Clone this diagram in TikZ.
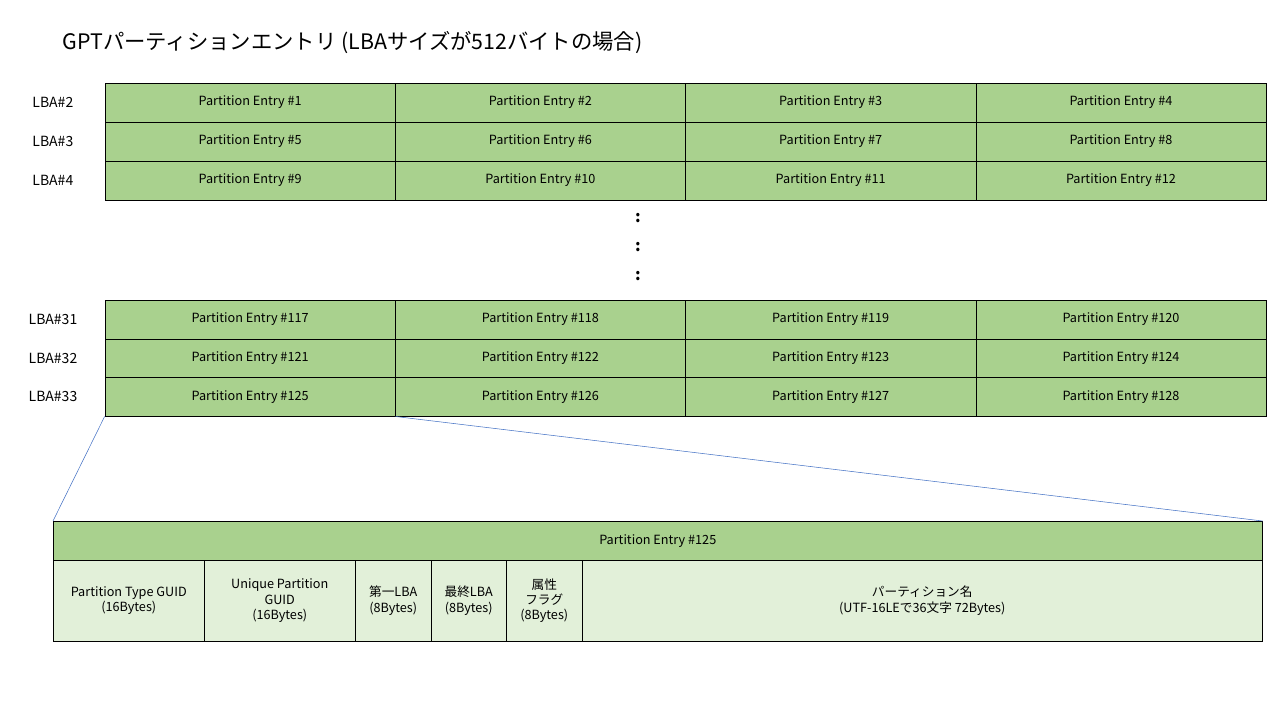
\documentclass[tikz,border=0pt]{standalone}
\usepackage{fontspec}
\setmainfont{Noto Sans CJK JP}
\definecolor{entgreen}{HTML}{A9D18E}
\definecolor{fldgreen}{HTML}{E2F0D9}
\definecolor{zoomblue}{HTML}{4472C4}
\begin{document}
\begin{tikzpicture}[x=0.75pt, y=-0.75pt,
                  entry/.style={draw, fill=entgreen, minimum height=29.25pt, minimum width=217.8pt, inner sep=0pt, font=\fontsize{9.5}{11}\selectfont},
                  field/.style={draw, fill=fldgreen, inner sep=0pt, align=center, font=\fontsize{9.5}{11.5}\selectfont},
                  lba/.style={anchor=east, font=\fontsize{10.5}{12}\selectfont}]
\useasboundingbox (0,0) rectangle (1280,720);
\node[anchor=west, font=\fontsize{16}{18}\selectfont] (title) at (58,43) {GPTパーティションエントリ (LBAサイズが512バイトの場合)};
% upper rows
\foreach \r/\l in {0/2, 1/3, 2/4}
  {\node[lba] (lba\l) at (78, 102.5+39*\r) {LBA\#\l};
   \foreach \c in {0,1,2,3}
     {\pgfmathtruncatemacro{\n}{4*\r+\c+1}
      \node[entry] (e\n) at (250.1+290.3*\c, 102.5+39*\r) {Partition Entry \#\n};}}
\foreach \y in {218,247,276}
  \node[font=\fontsize{12}{12}\selectfont\bfseries] (dot\y) at (638,\y) {:};
% lower rows
\foreach \r/\l in {0/31, 1/32, 2/33}
  {\node[lba] (lba\l) at (82, 319.5+38.7*\r) {LBA\#\l};
   \foreach \c in {0,1,2,3}
     {\pgfmathtruncatemacro{\n}{116+4*\r+\c+1}
      \node[entry, minimum height=29pt] (e\n) at (250.1+290.3*\c, 319.5+38.7*\r) {Partition Entry \#\n};}}
% detail of entry 125
\node[draw, fill=entgreen, minimum width=906.75pt, minimum height=29.25pt, inner sep=0pt,
      font=\fontsize{9.5}{11}\selectfont, anchor=north west] (detail) at (53,521) {Partition Entry \#125};
\foreach \a/\b/\t [count=\k] in {53/204/{Partition Type GUID\\(16Bytes)},
    204/355/{Unique Partition\\GUID\\(16Bytes)}, 355/431/{第一LBA\\(8Bytes)},
    431/506/{最終LBA\\(8Bytes)}, 506/582/{属性\\フラグ\\(8Bytes)},
    582/1262/{パーティション名\\(UTF-16LEで36文字 72Bytes)}}
  \node[field, anchor=north west, minimum height=60.75pt, minimum width={(\b-\a)*0.75pt}] (f\k) at (\a,560) {\t};
\draw[zoomblue] (e125.south west) -- (detail.north west);
\draw[zoomblue] (e125.south east) -- (detail.north east);
\end{tikzpicture}
\end{document}
